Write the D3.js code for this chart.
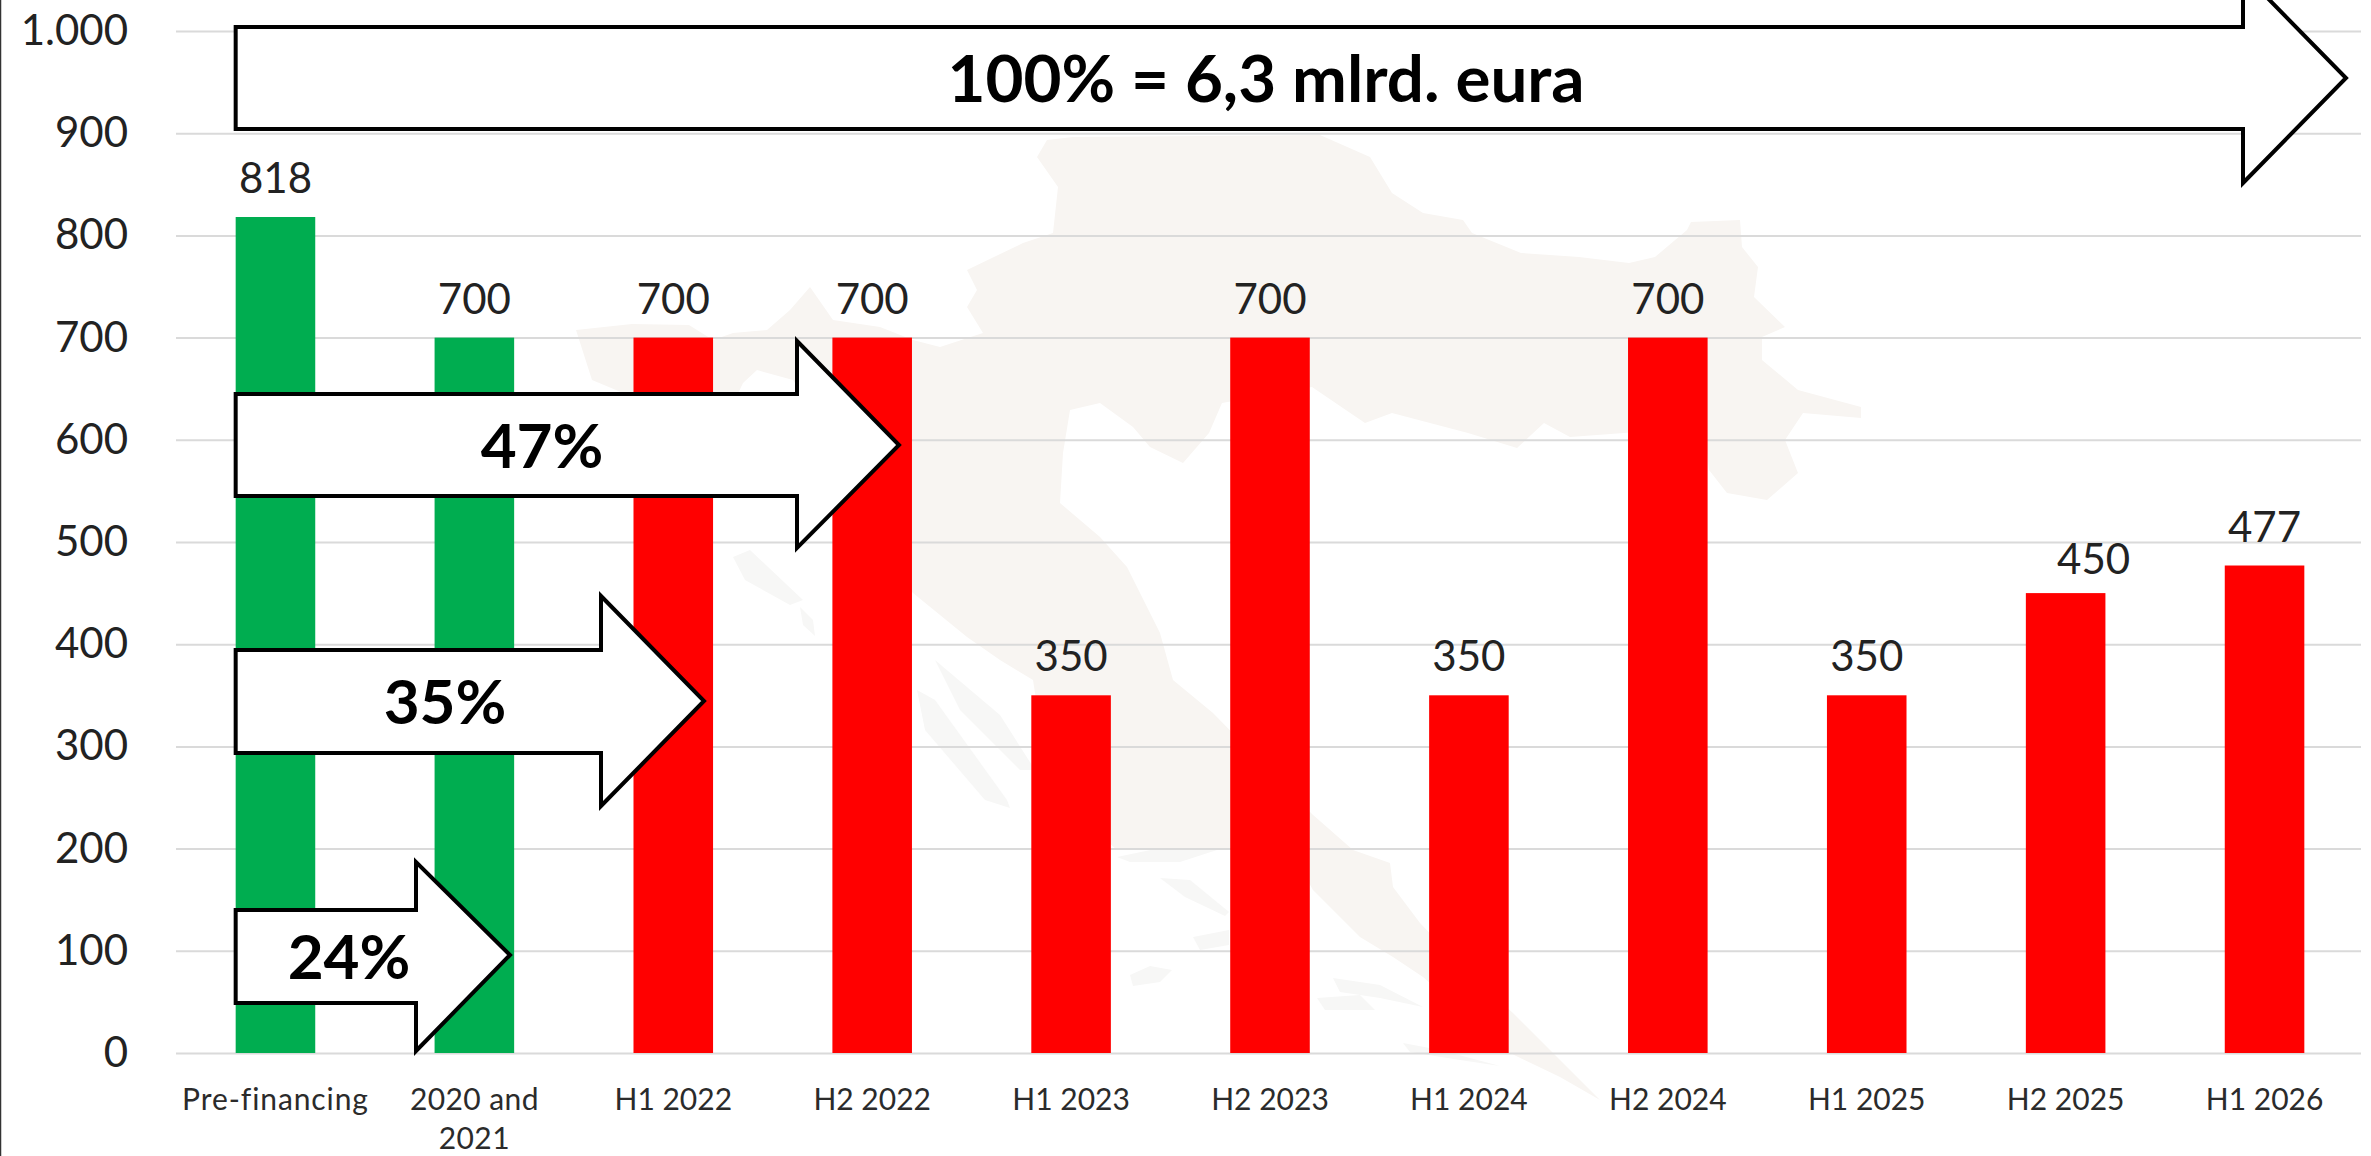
<!DOCTYPE html>
<html>
<head>
<meta charset="utf-8">
<script src="https://cdn.jsdelivr.net/npm/d3@7"></script>
<style>
html, body { margin: 0; padding: 0; background: #fff; overflow: hidden; }
text { font-family: Lato, "Open Sans", sans-serif; }
</style>
</head>
<body>
<script>
var categories = ["Pre-financing", "2020 and 2021", "H1 2022", "H2 2022", "H1 2023", "H2 2023", "H1 2024", "H2 2024", "H1 2025", "H2 2025", "H1 2026"]
var values = [818, 700, 700, 700, 350, 700, 350, 700, 350, 450, 477]
var barGroups = ["paid", "paid", "due", "due", "due", "due", "due", "due", "due", "due", "due"]
var yTicks = [0, 100, 200, 300, 400, 500, 600, 700, 800, 900, 1000]
var arrowLabels = ["100% = 6,3 mlrd. eura", "47%", "35%", "24%"]

var width = 2371
var height = 1156
var margin = {top: 31, right: 7, bottom: 103, left: 176}

var colors = {paid: "#00ad50", due: "#ff0000"}

var xScale = d3.scaleBand().domain(categories).range([margin.left, width - margin.right]).paddingInner(0.6).paddingOuter(0.3)
var yScale = d3.scaleLinear().domain([0, 1000]).range([height - margin.bottom, margin.top])

var svg = d3.select("body")
    .append("svg")
        .attr("width", width)
        .attr("height", height)
        .style("display", "block")

// faint map of Croatia behind the chart
var mapOutline = [[576,330],[632,324],[689,325],[713,340],[733,333],[767,330],[790,310],[810,287],[833,320],[880,327],[913,340],[940,347],[983,333],[967,307],[977,290],[967,270],[1023,243],[1053,233],[1058,187],[1037,157],[1047,140],[1073,137],[1320,135],[1370,157],[1392,193],[1423,213],[1463,220],[1472,233],[1521,253],[1579,257],[1629,263],[1655,257],[1687,230],[1691,222],[1740,220],[1742,247],[1758,267],[1754,297],[1785,327],[1762,337],[1762,360],[1798,390],[1861,407],[1861,418],[1803,413],[1785,440],[1798,473],[1767,500],[1727,493],[1709,470],[1704,427],[1624,433],[1570,437],[1544,423],[1517,448],[1468,433],[1392,413],[1365,423],[1312,387],[1222,403],[1209,433],[1183,463],[1150,447],[1133,427],[1100,403],[1070,410],[1063,453],[1060,503],[1100,537],[1127,567],[1160,633],[1173,680],[1213,713],[1312,814],[1353,850],[1390,863],[1393,887],[1420,923],[1470,975],[1513,1013],[1567,1067],[1600,1100],[1560,1077],[1510,1053],[1423,977],[1393,957],[1360,937],[1313,890],[1290,850],[1117,850],[1050,790],[1033,680],[1000,660],[967,637],[913,593],[832,500],[832,440],[793,380],[757,370],[743,383],[735,400],[700,440],[640,400],[592,380]]
var mapIslands = [
    [[733,557],[750,550],[803,600],[790,605],[745,580]],
    [[800,607],[813,620],[815,636],[803,625]],
    [[917,690],[935,700],[1007,800],[1010,808],[985,800],[925,730]],
    [[935,660],[1000,715],[1035,770],[1020,770],[960,710]],
    [[1117,857],[1160,848],[1217,850],[1180,862],[1130,862]],
    [[1160,878],[1190,880],[1229,912],[1225,916],[1185,897]],
    [[1193,937],[1229,930],[1229,945],[1200,950]],
    [[1130,975],[1150,966],[1172,970],[1160,982],[1133,986]],
    [[1333,978],[1380,985],[1423,1007],[1380,998],[1340,992]],
    [[1317,998],[1360,995],[1375,1010],[1325,1010]],
    [[1403,1043],[1440,1050],[1500,1066],[1460,1060],[1410,1052]]
]

var mapLine = d3.line().curve(d3.curveLinearClosed)
svg.append("g")
    .attr("class", "map")
  .selectAll("path")
    .data([mapOutline].concat(mapIslands))
    .enter().append("path")
    .attr("d", mapLine)
    .attr("fill", (d, i) => i == 0 ? "#f8f5f2" : "#f7f7f6")

// y axis, the inner ticks are the gridlines
var yAxis = d3.axisLeft(yScale)
    .tickValues(yTicks)
    .tickSize(-(width - margin.left - 10))
    .tickPadding(48)
    .tickFormat(d => d >= 1000 ? d3.format(",")(d).replace(",", ".") : d)

var yG = svg.append("g")
    .attr("class", "y axis")
    .attr("transform", "translate(" + margin.left + ",0)")
    .call(yAxis)
yG.select(".domain").remove()
yG.selectAll("line").attr("stroke", "#dadada").attr("stroke-width", 2)
yG.selectAll("text")
    .attr("font-size", 42)
    .attr("fill", "#222")
    .style("font-family", "Lato, sans-serif")

// bars
svg.append("g")
    .attr("class", "bars")
  .selectAll("rect")
    .data(values)
    .enter().append("rect")
    .attr("x", (d, i) => xScale(categories[i]))
    .attr("y", d => yScale(d))
    .attr("width", xScale.bandwidth())
    .attr("height", d => yScale(0) - yScale(d))
    .attr("fill", (d, i) => colors[barGroups[i]])

// value labels, the H2 2025 one was dragged off its bar in the original
svg.append("g")
    .attr("class", "values")
  .selectAll("text")
    .data(values)
    .enter().append("text")
    .attr("x", (d, i) => xScale(categories[i]) + xScale.bandwidth() / 2 + (categories[i] == "H2 2025" ? 28 : 0))
    .attr("y", (d, i) => yScale(d) - (categories[i] == "H2 2025" ? 19 : 24))
    .attr("text-anchor", "middle")
    .attr("font-size", 42)
    .attr("fill", "#222")
    .text(d => d)

// category axis, the long label breaks after "and"
var xAxis = d3.axisBottom(xScale).tickSize(0).tickPadding(0)
var xG = svg.append("g")
    .attr("class", "x axis")
    .attr("transform", "translate(0," + yScale(0) + ")")
    .call(xAxis)
xG.select(".domain").remove()
xG.selectAll("text")
    .attr("font-size", 30)
    .attr("fill", "#2b2b2b")
    .style("font-family", "Lato, sans-serif")
    .style("letter-spacing", d => d == "Pre-financing" ? "0.9px" : d == "2020 and 2021" ? "0.4px" : null)
    .each(function(d) {
        var t = d3.select(this)
        var parts = d.indexOf(" and ") > -1 ? [d.slice(0, d.indexOf(" and ") + 4), d.slice(d.indexOf(" and ") + 5)] : [d]
        t.text(null)
        parts.forEach((p, i) => {
            t.append("tspan").attr("x", 0).attr("y", 57 + i * 39).attr("dy", 0).text(p)
        })
    })

// block arrows: left edge sits on the first bar
function arrowPath(a) {
    var left = xScale(categories[0])
    return d3.line()([
        [left, a.top], [a.base, a.top], [a.base, a.headTop], [a.tip, a.mid],
        [a.base, a.headBottom], [a.base, a.bottom], [left, a.bottom]
    ]) + "Z"
}

var arrows = [
    {top: 27, bottom: 129, base: 2243, tip: 2346, mid: 78, headTop: -27, headBottom: 183, labelX: 1266, labelY: 102, size: 65.5},
    {top: 394, bottom: 496, base: 797, tip: 899, mid: 445, headTop: 341, headBottom: 548, labelX: 542, labelY: 468, size: 62},
    {top: 650, bottom: 753, base: 601, tip: 704, mid: 701, headTop: 596, headBottom: 806, labelX: 445, labelY: 724, size: 62},
    {top: 910, bottom: 1003, base: 416, tip: 510, mid: 955, headTop: 862, headBottom: 1051, labelX: 349, labelY: 979, size: 62}
]

var arrowG = svg.append("g").attr("class", "arrows")
arrowG.selectAll("path")
    .data(arrows)
    .enter().append("path")
    .attr("d", arrowPath)
    .attr("fill", "#fff")
    .attr("stroke", "#000")
    .attr("stroke-width", 4)
    .attr("stroke-linejoin", "miter")

arrowG.selectAll("text")
    .data(arrows)
    .enter().append("text")
    .attr("x", d => d.labelX)
    .attr("y", d => d.labelY)
    .attr("text-anchor", "middle")
    .attr("font-size", d => d.size)
    .attr("font-weight", 700)
    .attr("fill", "#000")
    .text((d, i) => arrowLabels[i])

// thin frame line on the left of the screenshot
svg.append("line")
    .attr("x1", 0.5).attr("x2", 0.5)
    .attr("y1", 0).attr("y2", height)
    .attr("stroke", "#333")
    .attr("stroke-width", 1.5)
</script>
</body>
</html>
